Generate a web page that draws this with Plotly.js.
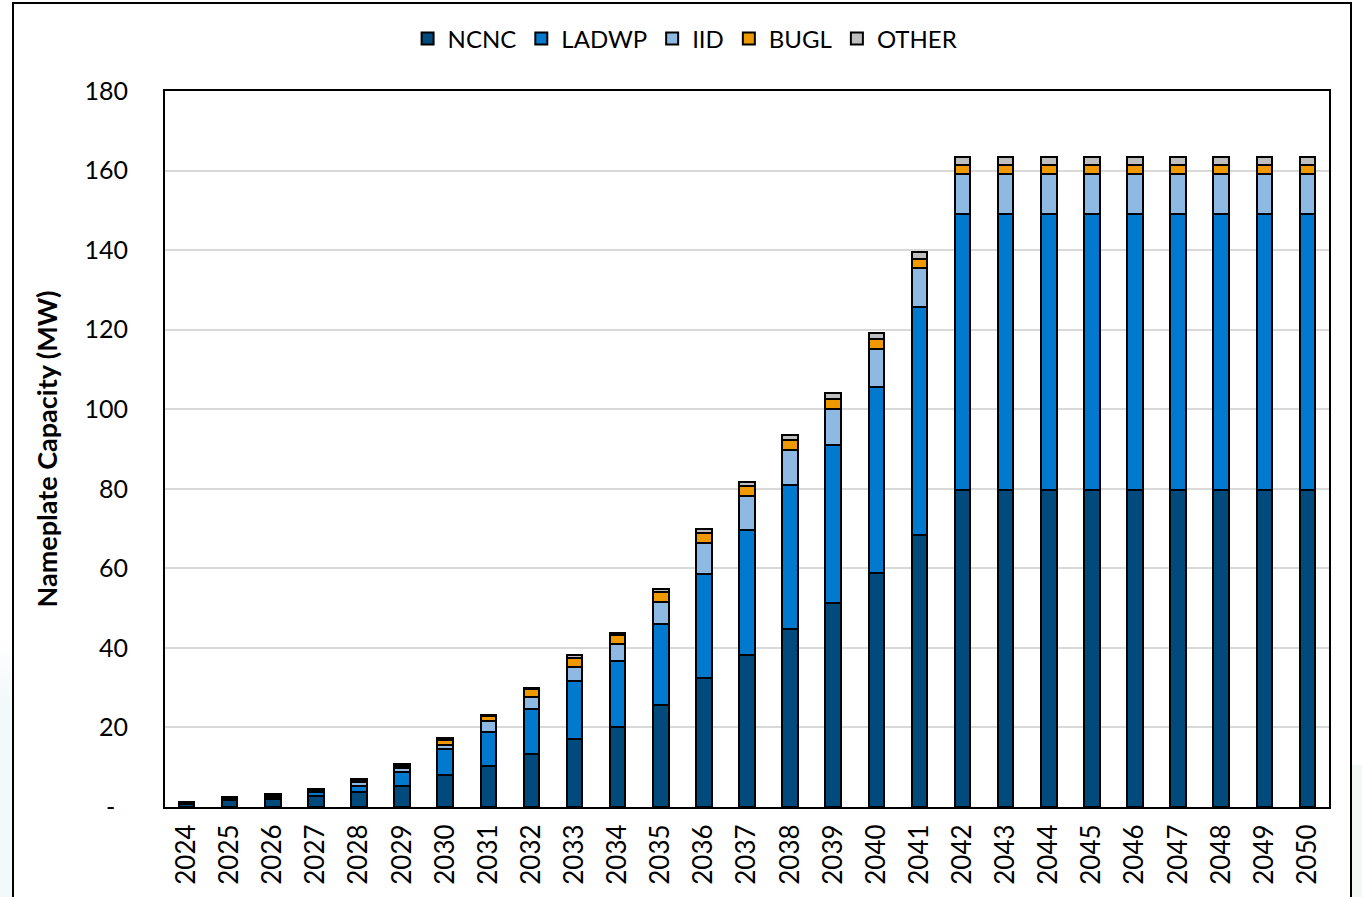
<!DOCTYPE html>
<html>
<head>
<meta charset="utf-8">
<script src="https://cdn.plot.ly/plotly-3.0.1.min.js"></script>
<style>
  html, body { margin: 0; padding: 0; background: #ffffff; overflow: hidden; }
  #tintL { position: absolute; left: 0; top: 640px; width: 13px; height: 257px;
           background: linear-gradient(#ffffff, #f3f8fa 25%); }
  #tintR { position: absolute; left: 1350px; top: 765px; width: 12px; height: 132px; background: #f2f9f5; }
  #chart { width: 1362px; height: 897px; position: absolute; left: 0; top: 0; }
  #frame { position: absolute; left: 12px; top: 2px; width: 1340px; height: 1000px;
           border: 2px solid #000; pointer-events: none; box-sizing: border-box; }
</style>
</head>
<body>
<div id="tintL"></div>
<div id="tintR"></div>
<div id="chart"></div>
<div id="frame"></div>
<script>
const years = ['2024','2025','2026','2027','2028','2029','2030','2031','2032','2033','2034','2035','2036','2037',
               '2038','2039','2040','2041','2042','2043','2044','2045','2046','2047','2048','2049','2050'];

const ncnc  = [0.8, 1.8, 2.0, 2.7, 3.8, 5.3, 8.0, 10.4, 13.3, 17.2, 20.1, 25.6, 32.5, 38.2,
               44.7, 51.4, 58.9, 68.5, 79.8, 79.8, 79.8, 79.8, 79.8, 79.8, 79.8, 79.8, 79.8];
const ladwp = [0.2, 0.3, 0.5, 1.0, 1.5, 3.5, 6.6, 8.4, 11.3, 14.5, 16.6, 20.4, 26.2, 31.4,
               36.2, 39.6, 46.8, 57.3, 69.3, 69.3, 69.3, 69.3, 69.3, 69.3, 69.3, 69.3, 69.3];
const iid   = [0.1, 0.2, 0.4, 0.4, 1.0, 0.9, 1.0, 2.7, 3.1, 3.5, 4.3, 5.5, 7.7, 8.6,
               8.8, 9.0, 9.4, 9.6, 10.0, 10.0, 10.0, 10.0, 10.0, 10.0, 10.0, 10.0, 10.0];
const bugl  = [0.1, 0.1, 0.2, 0.2, 0.4, 0.6, 1.2, 1.3, 2.0, 2.3, 2.2, 2.6, 2.6, 2.6,
               2.6, 2.6, 2.6, 2.4, 2.4, 2.4, 2.4, 2.4, 2.4, 2.4, 2.4, 2.4, 2.4];
const other = [0.1, 0.1, 0.2, 0.2, 0.3, 0.5, 0.5, 0.3, 0.3, 0.8, 0.6, 0.6, 0.8, 0.9,
               1.2, 1.4, 1.5, 1.8, 2.0, 2.0, 2.0, 2.0, 2.0, 2.0, 2.0, 2.0, 2.0];

const yTickVals = [0, 20, 40, 60, 80, 100, 120, 140, 160, 180];
const yTickText = ['-\u00a0\u00a0', '20', '40', '60', '80', '100', '120', '140', '160', '180'];

const seriesNames = ['NCNC', 'LADWP', 'IID', 'BUGL', 'OTHER'];
const seriesData = [ncnc, ladwp, iid, bugl, other];
const seriesColors = ['#004a7c', '#0079cf', '#8db9e2', '#ee9900', '#bfbfbf'];

const FONT = 'Lato, "Open Sans", "Noto Sans", sans-serif';

const traces = seriesNames.map((name, i) => ({
  type: 'bar',
  name: name,
  x: years,
  y: seriesData[i],
  marker: { color: seriesColors[i], line: { color: '#000000', width: 2 } },
  hoverinfo: 'x+y+name'
}));

const layout = {
  width: 1362,
  height: 897,
  barmode: 'stack',
  bargap: 0.64,
  paper_bgcolor: 'rgba(0,0,0,0)',
  plot_bgcolor: '#ffffff',
  margin: { l: 165, r: 33, t: 91, b: 90, pad: 0 },
  font: { family: FONT, size: 24, color: '#000000' },
  showlegend: true,
  legend: {
    orientation: 'h',
    xref: 'container', yref: 'container',
    x: 0.503, xanchor: 'center',
    y: 1 - 39 / 897, yanchor: 'middle',
    traceorder: 'normal',
    font: { family: FONT, size: 24, color: '#000000' },
    itemsizing: 'constant',
    bgcolor: 'rgba(0,0,0,0)'
  },
  xaxis: {
    type: 'category',
    tickangle: -90,
    showline: true, linecolor: '#000000', linewidth: 2, mirror: true,
    ticks: '', ticklen: 0,
    ticklabelstandoff: 5,
    tickfont: { family: FONT, size: 26, color: '#000000' },
    showgrid: false,
    zeroline: false,
    automargin: false
  },
  yaxis: {
    range: [0, 180],
    tickmode: 'array',
    tickvals: yTickVals,
    ticktext: yTickText,
    showline: true, linecolor: '#000000', linewidth: 2, mirror: true,
    ticks: 'outside', ticklen: 6, tickcolor: 'rgba(0,0,0,0)',
    ticklabelstandoff: 24,
    tickfont: { family: FONT, size: 25, color: '#000000' },
    showgrid: true, gridcolor: '#d9d9d9', gridwidth: 2,
    zeroline: false,
    automargin: false,
    title: {
      text: '<b>Nameplate Capacity (MW)</b>',
      font: { family: FONT, size: 27, color: '#000000' },
      standoff: 19
    }
  }
};

Plotly.newPlot('chart', traces, layout, { displayModeBar: false, staticPlot: true });
</script>
</body>
</html>
